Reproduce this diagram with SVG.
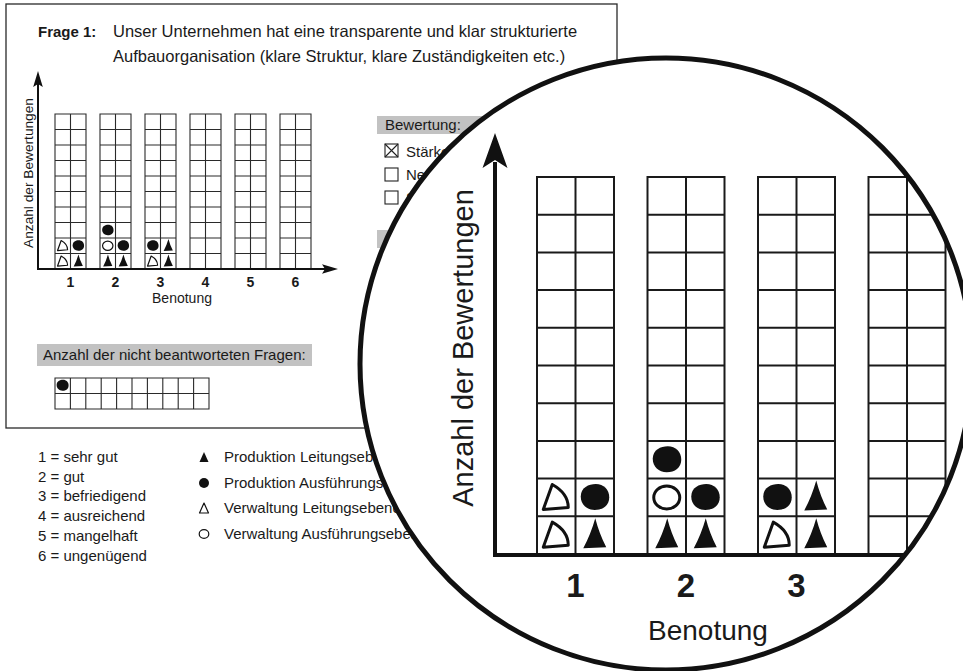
<svg xmlns="http://www.w3.org/2000/svg" xmlns:xlink="http://www.w3.org/1999/xlink" width="963" height="671" viewBox="0 0 963 671">
<style>
text{font-family:"Liberation Sans",Arial,Helvetica,sans-serif;fill:#1a1a1a}
.t15{font-size:15px}
.b{font-weight:bold}
.grid-s{fill:none;stroke:#2a2a2a;stroke-width:1.1}
.grid-b{fill:none;stroke:#1a1a1a;stroke-width:2}
.bar{fill:#c2c2c2}
.box{fill:#fff;stroke:#2a2a2a;stroke-width:1.3}
.fill{fill:#111}
.open{fill:none;stroke:#111;stroke-width:3;stroke-linejoin:round}
</style>
<defs>
<path id="ftri" class="fill" d="M0.5,-17 Q-4,-1 -11.5,13 L11.5,12 Q4.5,-1.5 0.5,-17 Z"/>
<path id="fcirc" class="fill" d="M-14,-1 C-14,-10 -6,-13.5 1,-13.5 C9,-13.5 14.5,-8 14.5,0 C14.5,8 8,12.5 0,12.5 C-8,12.5 -14,7 -14,-1 Z"/>
<path id="otri" class="open" d="M-4,-13 C5,-8 12,0 12,10 L-13,12 Z"/>
<ellipse id="ocirc" class="open" cx="0" cy="0" rx="13" ry="11.5"/>
<path id="colS" class="grid-s" d="M0,0 h31 v155 h-31 Z M15.5,0 v155 M0,15.5 h31 M0,31 h31 M0,46.5 h31 M0,62 h31 M0,77.5 h31 M0,93 h31 M0,108.5 h31 M0,124 h31 M0,139.5 h31"/>
<path id="colB" class="grid-b" d="M0,0 h77 v377 h-77 Z M38.5,0 v377 M0,37.7 h77 M0,75.4 h77 M0,113.1 h77 M0,150.8 h77 M0,188.5 h77 M0,226.2 h77 M0,263.9 h77 M0,301.6 h77 M0,339.3 h77"/>
<clipPath id="lens"><circle cx="666" cy="364" r="306"/></clipPath>
</defs>

<g id="page">
<rect class="box" x="6" y="4" width="611" height="424"/>
</g>

<g id="title">
<text class="t15 b" x="38" y="37">Frage 1:</text>
<text x="113" y="37" style="font-size:16.5px">Unser Unternehmen hat eine transparente und klar strukturierte</text>
<text x="113" y="62" style="font-size:16.5px">Aufbauorganisation (klare Struktur, klare Zuständigkeiten etc.)</text>
</g>

<g id="chart-small">
<use xlink:href="#colS" x="55" y="114"/>
<use xlink:href="#colS" x="100" y="114"/>
<use xlink:href="#colS" x="145" y="114"/>
<use xlink:href="#colS" x="190" y="114"/>
<use xlink:href="#colS" x="235" y="114"/>
<use xlink:href="#colS" x="280" y="114"/>
<g id="marks-small">
<use xlink:href="#otri" transform="translate(62.75,261.25) scale(0.4)"/>
<use xlink:href="#ftri" transform="translate(78.25,261.25) scale(0.4)"/>
<use xlink:href="#otri" transform="translate(62.75,245.75) scale(0.4)"/>
<use xlink:href="#fcirc" transform="translate(78.25,245.75) scale(0.4)"/>
<use xlink:href="#ftri" transform="translate(107.75,261.25) scale(0.4)"/>
<use xlink:href="#ftri" transform="translate(123.25,261.25) scale(0.4)"/>
<use xlink:href="#ocirc" transform="translate(107.75,245.75) scale(0.4)"/>
<use xlink:href="#fcirc" transform="translate(123.25,245.75) scale(0.4)"/>
<use xlink:href="#fcirc" transform="translate(107.75,230.25) scale(0.4)"/>
<use xlink:href="#otri" transform="translate(152.75,261.25) scale(0.4)"/>
<use xlink:href="#ftri" transform="translate(168.25,261.25) scale(0.4)"/>
<use xlink:href="#fcirc" transform="translate(152.75,245.75) scale(0.4)"/>
<use xlink:href="#ftri" transform="translate(168.25,245.75) scale(0.4)"/>
</g>
<g id="axes-small">
<line x1="38" y1="270" x2="38" y2="82" stroke="#111" stroke-width="2"/>
<path d="M38,71 L42.8,87 L38,84 L33.2,87 Z" fill="#111"/>
<line x1="37" y1="269" x2="328" y2="269" stroke="#111" stroke-width="2"/>
<path d="M338,269 L322,264.2 L325,269 L322,273.8 Z" fill="#111"/>
</g>
<g class="b" style="font-size:14px" text-anchor="middle">
<text x="70.5" y="287">1</text>
<text x="115.5" y="287">2</text>
<text x="160.5" y="287">3</text>
<text x="205.5" y="287">4</text>
<text x="250.5" y="287">5</text>
<text x="295.5" y="287">6</text>
</g>
<text x="182" y="303" text-anchor="middle" style="font-size:14px">Benotung</text>
<text transform="translate(33,173) rotate(-90)" text-anchor="middle" style="font-size:13.7px">Anzahl der Bewertungen</text>
</g>

<g id="unanswered">
<rect class="bar" x="37" y="344" width="275" height="22"/>
<text class="t15" x="43" y="360">Anzahl der nicht beantworteten Fragen:</text>
<path class="grid-s" d="M55,378 h154 v31 h-154 Z M55,393.5 h154 M70.4,378 v31 M85.8,378 v31 M101.2,378 v31 M116.6,378 v31 M132,378 v31 M147.4,378 v31 M162.8,378 v31 M178.2,378 v31 M193.6,378 v31"/>
<use xlink:href="#fcirc" transform="translate(62.5,385.5) scale(0.42)"/>
</g>

<g id="rating-panel">
<rect class="bar" x="377" y="116" width="160" height="18"/>
<text class="t15" x="385" y="130">Bewertung:</text>
<rect x="385" y="144" width="13" height="13" fill="none" stroke="#222" stroke-width="1.1"/>
<path d="M385,144 L398,157 M398,144 L385,157" stroke="#222" stroke-width="1.1"/>
<text class="t15" x="406" y="157">Stärken</text>
<rect x="385" y="168" width="13" height="13" fill="none" stroke="#222" stroke-width="1.1"/>
<text class="t15" x="406" y="180">Ne</text>
<rect x="385" y="191" width="13" height="13" fill="none" stroke="#222" stroke-width="1.1"/>
<text class="t15" x="406" y="203">S</text>
<rect class="bar" x="377" y="230" width="160" height="18"/>
</g>

<g id="legend-grades" class="t15">
<text x="38" y="462">1 = sehr gut</text>
<text x="38" y="482">2 = gut</text>
<text x="38" y="501">3 = befriedigend</text>
<text x="38" y="521">4 = ausreichend</text>
<text x="38" y="541">5 = mangelhaft</text>
<text x="38" y="561">6 = ungenügend</text>
</g>

<g id="legend-symbols">
<path d="M204,452 L208.5,462 L199.5,462 Z" fill="#111"/>
<circle cx="204" cy="483" r="5" fill="#111"/>
<path d="M204,503 L208.5,513 L199.5,513 Z" fill="none" stroke="#111" stroke-width="1.2" stroke-linejoin="round"/>
<ellipse cx="204" cy="534" rx="4.8" ry="4.3" fill="none" stroke="#111" stroke-width="1.2"/>
<text class="t15" x="224" y="462">Produktion Leitungsebene</text>
<text class="t15" x="224" y="488">Produktion Ausführungsebene</text>
<text class="t15" x="224" y="513">Verwaltung Leitungsebene</text>
<text class="t15" x="224" y="539">Verwaltung Ausführungsebene</text>
</g>

<g id="magnifier">
<circle cx="666" cy="364" r="306" fill="#fff"/>
<g clip-path="url(#lens)">
<use xlink:href="#colB" x="537" y="177"/>
<use xlink:href="#colB" x="647.5" y="177"/>
<use xlink:href="#colB" x="758" y="177"/>
<use xlink:href="#colB" x="868.5" y="177"/>
<g id="marks-big">
<use xlink:href="#otri" x="556.25" y="535.15"/>
<use xlink:href="#ftri" x="594.75" y="535.15"/>
<use xlink:href="#otri" x="556.25" y="497.45"/>
<use xlink:href="#fcirc" x="594.75" y="497.45"/>
<use xlink:href="#ftri" x="666.75" y="535.15"/>
<use xlink:href="#ftri" x="705.25" y="535.15"/>
<use xlink:href="#ocirc" x="666.75" y="497.45"/>
<use xlink:href="#fcirc" x="705.25" y="497.45"/>
<use xlink:href="#fcirc" x="666.75" y="459.75"/>
<use xlink:href="#otri" x="777.25" y="535.15"/>
<use xlink:href="#ftri" x="815.75" y="535.15"/>
<use xlink:href="#fcirc" x="777.25" y="497.45"/>
<use xlink:href="#ftri" x="815.75" y="497.45"/>
</g>
<g id="axes-big">
<line x1="495" y1="557" x2="495" y2="162" stroke="#111" stroke-width="4"/>
<path d="M495,133 L507.5,168 L495,160 L482.5,168 Z" fill="#111"/>
<line x1="493" y1="555" x2="990" y2="555" stroke="#111" stroke-width="4"/>
</g>
<g class="b" style="font-size:33px" text-anchor="middle">
<text x="575.5" y="597">1</text>
<text x="686" y="597">2</text>
<text x="796.5" y="597">3</text>
</g>
<text x="708" y="640" text-anchor="middle" style="font-size:28px">Benotung</text>
<text transform="translate(473,348) rotate(-90)" text-anchor="middle" style="font-size:29px">Anzahl der Bewertungen</text>
</g>
<circle cx="666" cy="364" r="306" fill="none" stroke="#111" stroke-width="5"/>
</g>
</svg>
